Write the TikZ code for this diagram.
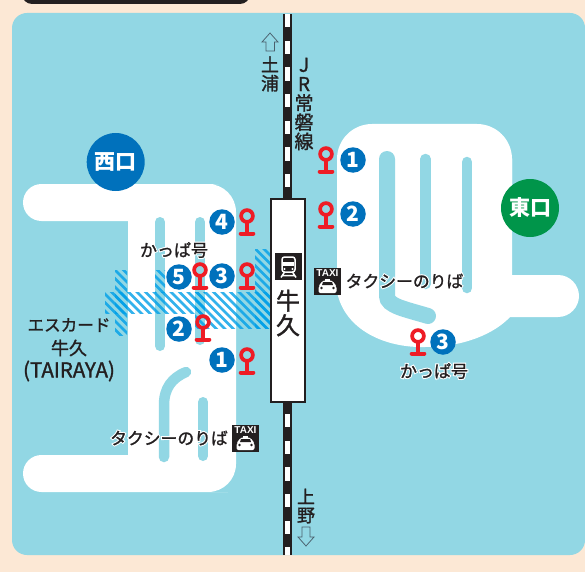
\documentclass[tikz,border=0pt]{standalone}
\usepackage{fontspec}
\setmainfont{Liberation Sans}
\newfontfamily\jp[FakeBold=1.4]{Noto Sans CJK JP}
\newfontfamily\jphalo[FakeBold=14]{Noto Sans CJK JP}
\newfontfamily\jpplain{Noto Sans CJK JP}
\newcommand{\jpbold}{\jpplain\bfseries}
\definecolor{cream}{HTML}{FCE8D5}
\definecolor{panel}{HTML}{92D7E4}
\definecolor{ink}{HTML}{231F20}
\definecolor{blueb}{HTML}{0071BC}
\definecolor{greenb}{HTML}{00954A}
\definecolor{redp}{HTML}{EE1C25}
\definecolor{hatchc}{HTML}{009FE8}
\definecolor{arrowc}{HTML}{4A5F6C}
\newcommand{\halotext}[2]{\fontsize{#1}{#1}\selectfont\leavevmode\rlap{\jphalo\color{white}#2}{\jp\color{ink}#2}}
\newcommand{\hatchbox}[4]{\begin{scope}
  \clip (#1,#2) rectangle (#3,#4);
  \foreach \c in {-240,-231.5,...,40}{
    \draw[hatchline] ({\c+240},240) -- ({\c+340},340);}
\end{scope}}
\newcommand{\pinmark}[3]{%
  \draw[redp,line width=3.7pt] (#2,#3) circle (5.9);
  \draw[redp,line width=3.7pt] (#2,#3+5.9) -- (#2,#3+17);
  \draw[redp,line width=4pt,line cap=round] (#2-6.3,#3+17.5) -- (#2+6.3,#3+17.5);
  \node[inner sep=0pt,minimum size=1pt] (#1) at (#2,#3) {};}
\newcommand{\badge}[4]{\node[numbadge] (#1) at (#2,#3) {#4};}
\newcommand{\taximark}[3]{%
  \fill[ink] (#2,#3) rectangle (#2+27,#3+27);
  \node[inner sep=0pt,text=white,font=\bfseries\fontsize{10}{10}\selectfont] (#1) at (#2+13.5,#3+5.3) {TAXI};
  \fill[white] (#2+11,#3+10.5) rectangle (#2+16,#3+13.5);
  \fill[white,rounded corners=2pt] (#2+8,#3+12.5) -- (#2+19,#3+12.5) -- (#2+20.5,#3+16.5) -- (#2+22.5,#3+18) -- (#2+22.5,#3+25) -- (#2+4.5,#3+25) -- (#2+4.5,#3+18) -- (#2+6.5,#3+16.5) -- cycle;
  \fill[ink] (#2+9,#3+14) -- (#2+18,#3+14) -- (#2+19,#3+17) -- (#2+8,#3+17) -- cycle;
  \fill[ink] (#2+7.5,#3+20) circle (1.4) (#2+19.5,#3+20) circle (1.4);
}
\tikzset{
  hatchline/.style={hatchc,opacity=.8,line width=2.5pt},
  numbadge/.style={circle,fill=blueb,text=white,minimum size=25.5pt,inner sep=0pt,font=\jpbold\fontsize{21}{21}\selectfont},
  exitbadge/.style={circle,minimum size=58pt,inner sep=0pt,text=white,font=\jpbold\fontsize{21}{21}\selectfont},
  slot/.style={panel,line cap=round},
  label/.style={inner sep=0pt,align=center},
  vtext/.style={inner sep=0pt,align=center,text=ink},
  outarrow/.style={draw=arrowc,line width=.75pt,line join=miter},
}
\begin{document}
\begin{tikzpicture}[x=1pt,y=-1pt]
\useasboundingbox (0,0) rectangle (585,572);
\fill[cream] (0,0) rectangle (585,572);
\fill[ink,rounded corners=10pt] (22,-20) rectangle (250,4);
\fill[panel,rounded corners=15pt] (12,13) rectangle (585,555);
% west concourse
\fill[white] (128,221) [rounded corners=18.5pt] -- (23,221) -- (23,184) -- (200,184) [rounded corners=28pt] -- (236,184) -- (236,492) -- (200,492) [rounded corners=18.5pt] -- (23,492) -- (23,455) [sharp corners] -- (128,455) -- cycle;
\draw[slot,line width=10pt] (160,222) -- (160,346);
\draw[slot,line width=10pt] (200,222) -- (200,340);
\draw[slot,line width=10.5pt] (164,457) -- (164,405) .. controls (164,388) and (172,378) .. (186,372);
\draw[slot,line width=10pt] (203,402) -- (203,456);
% east concourse
\fill[white,rounded corners=35pt] (337,250) -- (337,124) -- (512,124) -- (512,250) [sharp corners] -- cycle;
\fill[white] (337,158) -- (337,292) .. controls (345,330) and (385,348) .. (425,347) .. controls (465,347) and (495,333) .. (510,317) -- (558,317) .. controls (570,317) and (579,307) .. (579,296) .. controls (579,285) and (570,275) .. (558,275) -- (512,275) -- (512,158) -- cycle;
\draw[slot,line width=16pt] (387,159) -- (387,296) .. controls (387,306) and (405,309) .. (428,316);
\draw[slot,line width=10.5pt] (425.5,159) -- (425.5,284);
\draw[slot,line width=10.5pt] (467,162) -- (467,288);
% hatching
\hatchbox{115}{270}{127}{335}
\hatchbox{105}{292}{205}{313}
\hatchbox{195}{292}{270}{328}
\hatchbox{155}{270}{165}{292}
\hatchbox{255}{249}{270}{328}
% railway
\fill[ink] (283,14) rectangle (292,555);
\foreach \y in {14,40.7,67.3,94,120.7,147.3,174,414,440.7,467.3,494,520.7,547.3}{
  \fill[white] (285.2,\y) rectangle (289.8,{min(\y+13.3,555)});
}
% station
\node[draw=ink,line width=2.6pt,fill=white,minimum width=34pt,minimum height=203pt,inner sep=0pt,rectangle] (station) at (288,300.5) {};
\fill[ink] (275,253) rectangle (302,280);
\draw[white,line width=1.5pt,rounded corners=2.5pt] (282,257) rectangle (295,272);
\fill[white] (283,261.5) rectangle (294,266);
\fill[white] (284.5,269) circle (1.1) (292.5,269) circle (1.1);
\draw[white,line width=1.5pt] (284.5,272) -- (281,277.5) (292.5,272) -- (296,277.5) (282.5,275.5) -- (294.5,275.5);
\node[vtext,font=\jp\fontsize{24}{24.5}\selectfont] (stname) at (288,313) {牛\\久};
% direction labels
\draw[outarrow] (270,33) -- (278,42) -- (274.5,42) -- (274.5,51) -- (266,51) -- (266,42) -- (262,42) -- cycle;
\node[vtext,font=\jp\fontsize{18}{18.5}\selectfont] (tsuchiura) at (270,74) {土\\浦};
\node[vtext,font=\jp\fontsize{19}{19.2}\selectfont] (joban) at (304,104) {J\\R\\常\\磐\\線};
\node[vtext,font=\jp\fontsize{18}{18.5}\selectfont] (ueno) at (306,506) {上\\野};
\draw[outarrow] (302,527) -- (310,527) -- (310,537) -- (314,537) -- (306,546) -- (298,537) -- (302,537) -- cycle;
% exits
\node[exitbadge,fill=blueb] (west) at (115.7,162) {西口};
\node[exitbadge,fill=greenb] (east) at (530,208) {東口};
% west stops
\pinmark{wp4}{247}{216}
\pinmark{wp3}{247}{270}
\pinmark{wp5}{200}{270}
\pinmark{wp2}{203}{322}
\pinmark{wp1}{247}{355}
\badge{wb4}{222}{222}{4}
\badge{wb3}{222}{276}{3}
\badge{wb5}{179}{277}{5}
\badge{wb2}{179}{329}{2}
\badge{wb1}{222}{360}{1}
% east stops
\pinmark{ep1}{326}{154}
\pinmark{ep2}{326}{209}
\pinmark{ep3}{418}{336}
\badge{eb1}{353}{160}{1}
\badge{eb2}{353}{214}{2}
\badge{eb3}{443}{342}{3}
% labels
\node[label] (wkappa) at (174,250) {\halotext{17}{かっぱ号}};
\node[label] (ekappa) at (434,371) {\halotext{17}{かっぱ号}};
\node[label,text=ink,font=\jp\fontsize{16.6}{17}\selectfont] (esucard) at (69,325) {エスカード};
\node[label,text=ink,font=\jp\fontsize{18}{18}\selectfont] (esucardb) at (69,348) {牛久};
\node[label,text=ink,font=\jp\fontsize{20.5}{21}\selectfont] (esucardc) at (69,371) {(TAIRAYA)};
\node[label] (wtaxi) at (169,438) {\halotext{16.8}{タクシーのりば}};
\node[label] (etaxi) at (404.5,281) {\halotext{16.8}{タクシーのりば}};
\taximark{wtaxiicon}{232}{425}
\taximark{etaxiicon}{314}{268}
\end{tikzpicture}
\end{document}
